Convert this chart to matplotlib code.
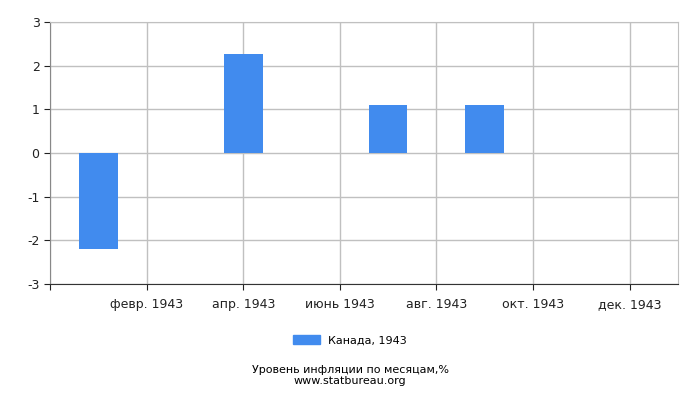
import numpy as np
import matplotlib
matplotlib.use("Agg")
import matplotlib.pyplot as plt
from matplotlib.patches import Patch

# данные
months = np.arange(1, 13)
values = [-2.2, 0, 0, 2.27, 0, 0, 1.1, 0, 1.1, 0, 0, 0]
tick_pos = [2, 4, 6, 8, 10, 12]
tick_labels = ['февр. 1943', 'апр. 1943', 'июнь 1943', 'авг. 1943', 'окт. 1943', 'дек. 1943']
series_name = 'Канада, 1943'

plt.rcParams['font.family'] = ['DejaVu Sans']
plt.rcParams['axes.unicode_minus'] = False

fig = plt.figure(figsize=(7, 4), dpi=100)
ax = fig.add_axes([50 / 700, 116 / 400, 628 / 700, 262 / 400])

ax.bar(months, values, width=0.8, color='#418bee', zorder=3)

ax.set_xlim(0, 13)
ax.set_ylim(-3, 3)
ax.set_yticks(range(-3, 4))
ax.set_xticks([0] + tick_pos)
ax.set_xticklabels([''] + tick_labels)
ax.grid(True, color='#c0c0c0', linewidth=1, zorder=0)

for s in ['top', 'right']:
    ax.spines[s].set_color('#c0c0c0')
ax.spines['left'].set_color('#888888')
ax.spines['bottom'].set_color('#333333')
ax.tick_params(axis='both', labelsize=9, colors='#222222', length=4)
ax.tick_params(axis='x', pad=6)

fig.legend(handles=[Patch(color='#418bee', label=series_name)],
           loc='center', bbox_to_anchor=(0.5, 0.15), frameon=False,
           fontsize=8, handlelength=2.4, handleheight=0.9)

fig.text(0.5, 0.068, 'Уровень инфляции по месяцам,%', ha='center', fontsize=8)
fig.text(0.5, 0.04, 'www.statbureau.org', ha='center', fontsize=8)

fig.savefig('out.png', dpi=100)
